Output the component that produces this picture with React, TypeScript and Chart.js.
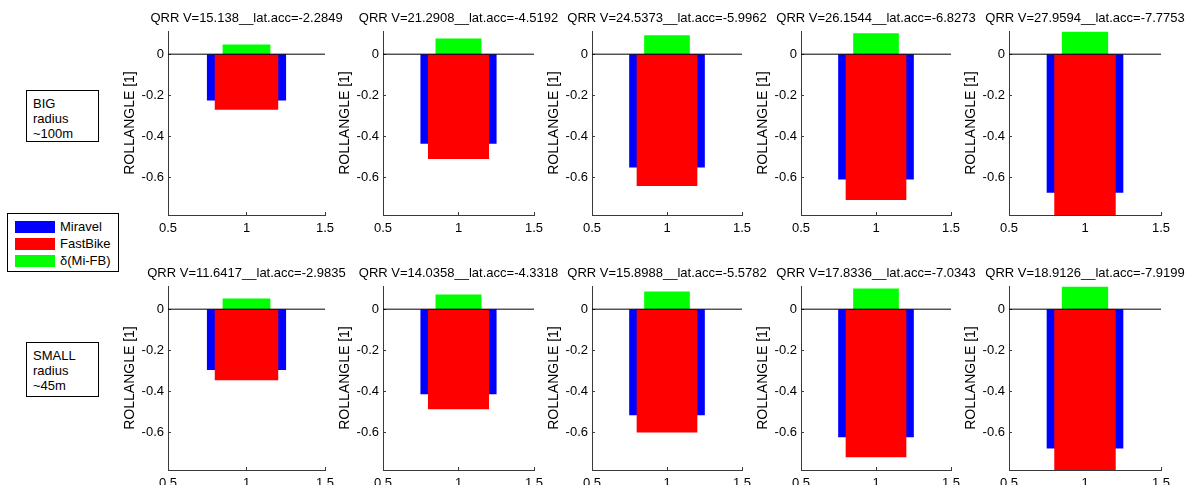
import React, { useEffect, useRef } from 'react';
import { Chart, registerables } from 'chart.js';

Chart.register(...registerables);

// ---- data -------------------------------------------------------------
const xTicks = [0.5, 1, 1.5];
const yTicks = [-0.6, -0.4, -0.2, 0];
const yMin = -0.784;
const yMax = 0.113;
const xMin = 0.5;
const xMax = 1.5;

const barCenter = 1;
// bar widths in x units (Miravel widest, delta narrowest)
const barWidthMiravel = 0.5;
const barWidthFastBike = 0.4;
const barWidthDelta = 0.3;

const seriesNames = ['Miravel', 'FastBike', 'δ(Mi-FB)'];

// big radius (~100m) manoeuvres
const bigSpeed = ['15.138', '21.2908', '24.5373', '26.1544', '27.9594'];
const bigLatAcc = ['-2.2849', '-4.5192', '-5.9962', '-6.8273', '-7.7753'];
const bigMiravel = [-0.224, -0.435, -0.551, -0.609, -0.674];
const bigFastBike = [-0.269, -0.51, -0.641, -0.709, -0.782];
const bigDelta = [0.045, 0.075, 0.091, 0.101, 0.108];

// small radius (~45m) manoeuvres
const smallSpeed = ['11.6417', '14.0358', '15.8988', '17.8336', '18.9126'];
const smallLatAcc = ['-2.9835', '-4.3318', '-5.5782', '-7.0343', '-7.9199'];
const smallMiravel = [-0.295, -0.413, -0.516, -0.623, -0.678];
const smallFastBike = [-0.345, -0.486, -0.599, -0.72, -0.79];
const smallDelta = [0.05, 0.07, 0.084, 0.099, 0.108];

const baseline = [0, 0];

// ---- styling / layout -------------------------------------------------
const FONT = '"Liberation Sans", Arial, Helvetica, sans-serif';
const AXIS_COLOR = '#3a3a3a';
const BLUE = '#0000ff';
const RED = '#ff0000';
const GREEN = '#00ff00';

const SIDE = 55; // room left of the axes (ticks + y title), mirrored on the right
const TOP = 31; // room for the subplot title
const BOTTOM = 26; // room for x tick labels
const PLOT_H = 184;
const rowTops = [31, 286];
const cols = [
  { left: 168, width: 157 },
  { left: 383, width: 151 },
  { left: 592, width: 150 },
  { left: 801, width: 150 },
  { left: 1009, width: 152 },
];

const fmt = (v: number) => String(v);

type PanelProps = {
  left: number;
  top: number;
  width: number;
  title: string;
  miravel: number;
  fastBike: number;
  delta: number;
};

function Panel({ left, top, width, title, miravel, fastBike, delta }: PanelProps) {
  const ref = useRef<HTMLCanvasElement>(null);
  const cw = SIDE + width + SIDE;
  const ch = TOP + PLOT_H + BOTTOM;

  useEffect(() => {
    const thickness = (w: number) => (ctx: any) => {
      const s = ctx.chart.scales.x;
      return s.getPixelForValue(barCenter + w / 2) - s.getPixelForValue(barCenter - w / 2);
    };
    const chart = new Chart(ref.current as HTMLCanvasElement, {
      type: 'bar',
      data: {
        datasets: [
          {
            label: seriesNames[0],
            data: [{ x: barCenter, y: miravel }],
            backgroundColor: BLUE,
            borderWidth: 0,
            barThickness: thickness(barWidthMiravel) as any,
            grouped: false,
            order: 3,
          },
          {
            label: seriesNames[1],
            data: [{ x: barCenter, y: fastBike }],
            backgroundColor: RED,
            borderWidth: 0,
            barThickness: thickness(barWidthFastBike) as any,
            grouped: false,
            order: 2,
          },
          {
            label: seriesNames[2],
            data: [{ x: barCenter, y: delta }],
            backgroundColor: GREEN,
            borderWidth: 0,
            barThickness: thickness(barWidthDelta) as any,
            grouped: false,
            order: 1,
          },
          {
            type: 'line',
            label: 'baseline',
            data: [
              { x: xMin, y: baseline[0] },
              { x: xMax, y: baseline[1] },
            ],
            borderColor: '#000',
            borderWidth: 1,
            pointRadius: 0,
            order: 0,
          } as any,
        ],
      },
      options: {
        animation: false,
        responsive: false,
        devicePixelRatio: 1,
        events: [],
        layout: { padding: 0 },
        plugins: {
          legend: { display: false },
          tooltip: { enabled: false },
          title: {
            display: true,
            text: title,
            color: '#000',
            font: { family: FONT, size: 13, weight: 'normal' },
            padding: { top: 10.2, bottom: TOP - 10.2 - 15.6 },
            fullSize: true,
          },
        },
        scales: {
          x: {
            type: 'linear',
            min: xMin,
            max: xMax,
            offset: false,
            afterBuildTicks: (s: any) => {
              s.ticks = xTicks.map((v) => ({ value: v }));
            },
            afterFit: (s: any) => {
              s.height = BOTTOM;
              s.paddingLeft = 0;
              s.paddingRight = 0;
            },
            ticks: {
              autoSkip: false,
              maxRotation: 0,
              padding: 9,
              color: '#000',
              font: { family: FONT, size: 13 },
              callback: (v: any) => fmt(Number(v)),
            },
            grid: {
              drawOnChartArea: false,
              offset: false,
              tickLength: -3,
              tickColor: AXIS_COLOR,
            },
            border: { color: AXIS_COLOR, width: 1 },
          },
          y: {
            type: 'linear',
            position: 'left',
            min: yMin,
            max: yMax,
            afterBuildTicks: (s: any) => {
              s.ticks = yTicks.map((v) => ({ value: v }));
            },
            afterFit: (s: any) => {
              s.width = SIDE;
              s.paddingTop = 0;
              s.paddingBottom = 0;
            },
            ticks: {
              padding: 7,
              color: '#000',
              font: { family: FONT, size: 13 },
              callback: (v: any) => fmt(Number(v)),
            },
            grid: {
              drawOnChartArea: false,
              tickLength: -3,
              tickColor: AXIS_COLOR,
            },
            border: { color: AXIS_COLOR, width: 1 },
            title: {
              display: true,
              text: 'ROLLANGLE [1]',
              color: '#000',
              font: { family: FONT, size: 14 },
              padding: { top: 8.6, bottom: 0 },
            },
          },
          // empty axis on the right keeps the plot area centred under the title
          yRight: {
            type: 'linear',
            position: 'right',
            display: true,
            afterFit: (s: any) => {
              s.width = SIDE;
              s.paddingTop = 0;
              s.paddingBottom = 0;
            },
            ticks: { display: false },
            grid: { display: false },
            border: { display: false },
          },
        },
      } as any,
    });
    return () => chart.destroy();
  }, [title, miravel, fastBike, delta, width]);

  return (
    <canvas
      ref={ref}
      width={cw}
      height={ch}
      style={{ position: 'absolute', left: left - SIDE, top: top - TOP, width: cw, height: ch }}
    />
  );
}

const textStyle: React.CSSProperties = {
  fontFamily: FONT,
  fontSize: 13,
  color: '#000',
  lineHeight: '15px',
};

function NoteBox({ left, top, width, height, lines }: { left: number; top: number; width: number; height: number; lines: string[] }) {
  return (
    <div
      style={{
        ...textStyle,
        position: 'absolute',
        left,
        top,
        width,
        height,
        boxSizing: 'border-box',
        border: '1px solid #000',
        background: '#fff',
        padding: '5px 0 0 6px',
      }}
    >
      {lines.map((l) => (
        <div key={l}>{l}</div>
      ))}
    </div>
  );
}

function Legend() {
  const colors = [BLUE, RED, GREEN];
  return (
    <div
      style={{
        ...textStyle,
        position: 'absolute',
        left: 7,
        top: 213,
        width: 112,
        height: 59,
        boxSizing: 'border-box',
        border: '1px solid #000',
        background: '#fff',
      }}
    >
      {seriesNames.map((name, i) => (
        <div key={name} style={{ position: 'absolute', left: 7, top: 5 + i * 17, height: 15, display: 'flex', alignItems: 'center' }}>
          <div style={{ width: 40, height: 12, background: colors[i], marginRight: 5 }} />
          <span>{name}</span>
        </div>
      ))}
    </div>
  );
}

export default function App() {
  const rows = [
    { speed: bigSpeed, lat: bigLatAcc, mi: bigMiravel, fb: bigFastBike, d: bigDelta },
    { speed: smallSpeed, lat: smallLatAcc, mi: smallMiravel, fb: smallFastBike, d: smallDelta },
  ];
  return (
    <div
      style={{
        position: 'absolute',
        left: 0,
        top: 0,
        width: 1185,
        height: 485,
        overflow: 'hidden',
        background: '#fff',
      }}
    >
      {rows.map((r, ri) =>
        cols.map((c, ci) => (
          <Panel
            key={`${ri}-${ci}`}
            left={c.left}
            top={rowTops[ri]}
            width={c.width}
            title={`QRR V=${r.speed[ci]}__lat.acc=${r.lat[ci]}`}
            miravel={r.mi[ci]}
            fastBike={r.fb[ci]}
            delta={r.d[ci]}
          />
        ))
      )}
      <NoteBox left={26} top={90} width={73} height={52} lines={['BIG', 'radius', '~100m']} />
      <NoteBox left={26} top={342} width={73} height={55} lines={['SMALL', 'radius', '~45m']} />
      <Legend />
    </div>
  );
}
